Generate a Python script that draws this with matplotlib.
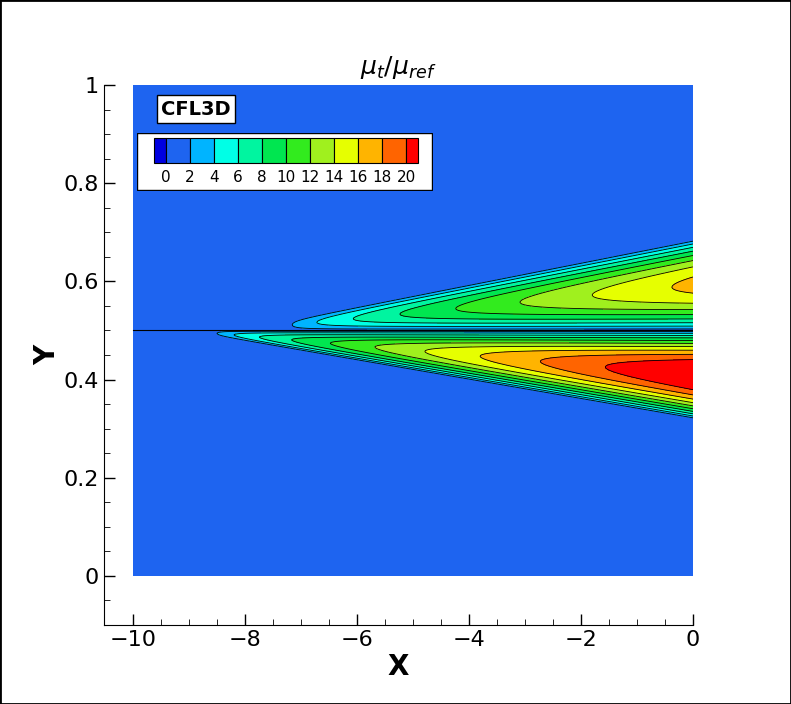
import matplotlib.pyplot as plt
import numpy as np
from matplotlib.patches import Rectangle

# contour levels / legend
levels = [0, 2, 4, 6, 8, 10, 12, 14, 16, 18, 20]
level_labels = ["0", "2", "4", "6", "8", "10", "12", "14", "16", "18", "20"]
colors = ["#0000e0", "#1e64f0", "#00b4ff", "#00ffe6", "#00f5a0", "#00e650",
          "#32eb1e", "#a0f01e", "#e6ff00", "#ffb400", "#ff6400", "#ff0000"]

# shear-layer wedges: tip x, tip y, edge spread at x=0, peak value
lower_tip_x, lower_tip_y, lower_spread, lower_peak = -8.6, 0.49, 0.17, 22.0
upper_tip_x, upper_tip_y, upper_spread, upper_peak = -7.3, 0.52, 0.165, 16.0
split_y = 0.5

x = np.linspace(-10, 0, 500)
y = np.linspace(0, 1, 600)
X, Y = np.meshgrid(x, y)

s_lo = np.clip((X - lower_tip_x) / -lower_tip_x, 0, None)
y_lo = lower_tip_y - lower_spread * s_lo
t_lo = (split_y - Y) / np.maximum(split_y - y_lo, 1e-6)
f_lo = np.where((t_lo > 0) & (t_lo < 1), np.sin(np.pi * np.clip(t_lo, 0, 1)) ** 0.8, 0)
Z = lower_peak * s_lo ** 0.6 * f_lo

s_up = np.clip((X - upper_tip_x) / -upper_tip_x, 0, None)
y_up = upper_tip_y + upper_spread * s_up
t_up = (Y - split_y) / np.maximum(y_up - split_y, 1e-6)
f_up = np.where((t_up > 0) & (t_up < 1), np.sin(np.pi * np.clip(t_up, 0, 1)) ** 0.8, 0)
Z = Z + upper_peak * s_up ** 0.6 * f_up
Z = Z + 0.5

fig = plt.figure(figsize=(7.91, 7.04), dpi=100)
ax = fig.add_axes([104 / 791, 79 / 704, 589 / 791, 540 / 704])
ax.contourf(X, Y, Z, levels=levels, colors=colors[1:-1], extend="both")
cs = ax.contourf(X, Y, Z, levels=levels, colors=colors[1:-1], extend="both")
cs.cmap.set_under(colors[0])
cs.cmap.set_over(colors[-1])
ax.contour(X, Y, Z, levels=levels[1:], colors="black", linewidths=0.6)
ax.plot([-10, 0], [split_y, split_y], color="black", lw=0.8)

ax.set_xlim(-10.52, 0)
ax.set_ylim(-0.1, 1)
ax.spines["top"].set_visible(False)
ax.spines["right"].set_visible(False)
ax.spines["left"].set_bounds(-0.1, 1)
ax.set_xticks([-10, -8, -6, -4, -2, 0])
ax.set_xticks(np.arange(-10, 0.01, 0.5), minor=True)
ax.set_yticks([0, 0.2, 0.4, 0.6, 0.8, 1])
ax.set_yticklabels(["0", "0.2", "0.4", "0.6", "0.8", "1"])
ax.set_yticks(np.arange(-0.1, 1.01, 0.05), minor=True)
ax.tick_params(direction="in", labelsize=16, length=8, width=1)
ax.tick_params(which="minor", direction="in", length=4)
ax.set_xlabel("X", fontsize=20, fontweight="bold", labelpad=2)
ax.set_ylabel("Y", fontsize=20, fontweight="bold", labelpad=2)
ax.set_title(r"$\mu_t/\mu_{ref}$", fontsize=18, pad=8)

# legend
ax.text(-9.5, 0.951, "CFL3D", fontsize=14, fontweight="bold", ha="left", va="center",
        bbox=dict(facecolor="white", edgecolor="black", pad=3))
lg = fig.add_axes([137 / 791, (704 - 191) / 704, 296 / 791, 58 / 704])
lg.set_xlim(0, 296)
lg.set_ylim(58, 0)
lg.axis("off")
lg.add_patch(Rectangle((0, 0), 295, 57, facecolor="white", edgecolor="black", lw=1))
widths = [12] + [24] * 10 + [12]
px = 17
for c, w in zip(colors, widths):
    lg.add_patch(Rectangle((px, 5), w, 25, facecolor=c, edgecolor="black", lw=0.8))
    px += w
for i, lab in enumerate(level_labels):
    lg.text(29 + 24 * i, 45, lab, fontsize=11, ha="center", va="center")

fig.add_artist(Rectangle((0, 0), 1, 1, transform=fig.transFigure, fill=False,
                         edgecolor="black", lw=2))
fig.savefig("out.png", dpi=100)
